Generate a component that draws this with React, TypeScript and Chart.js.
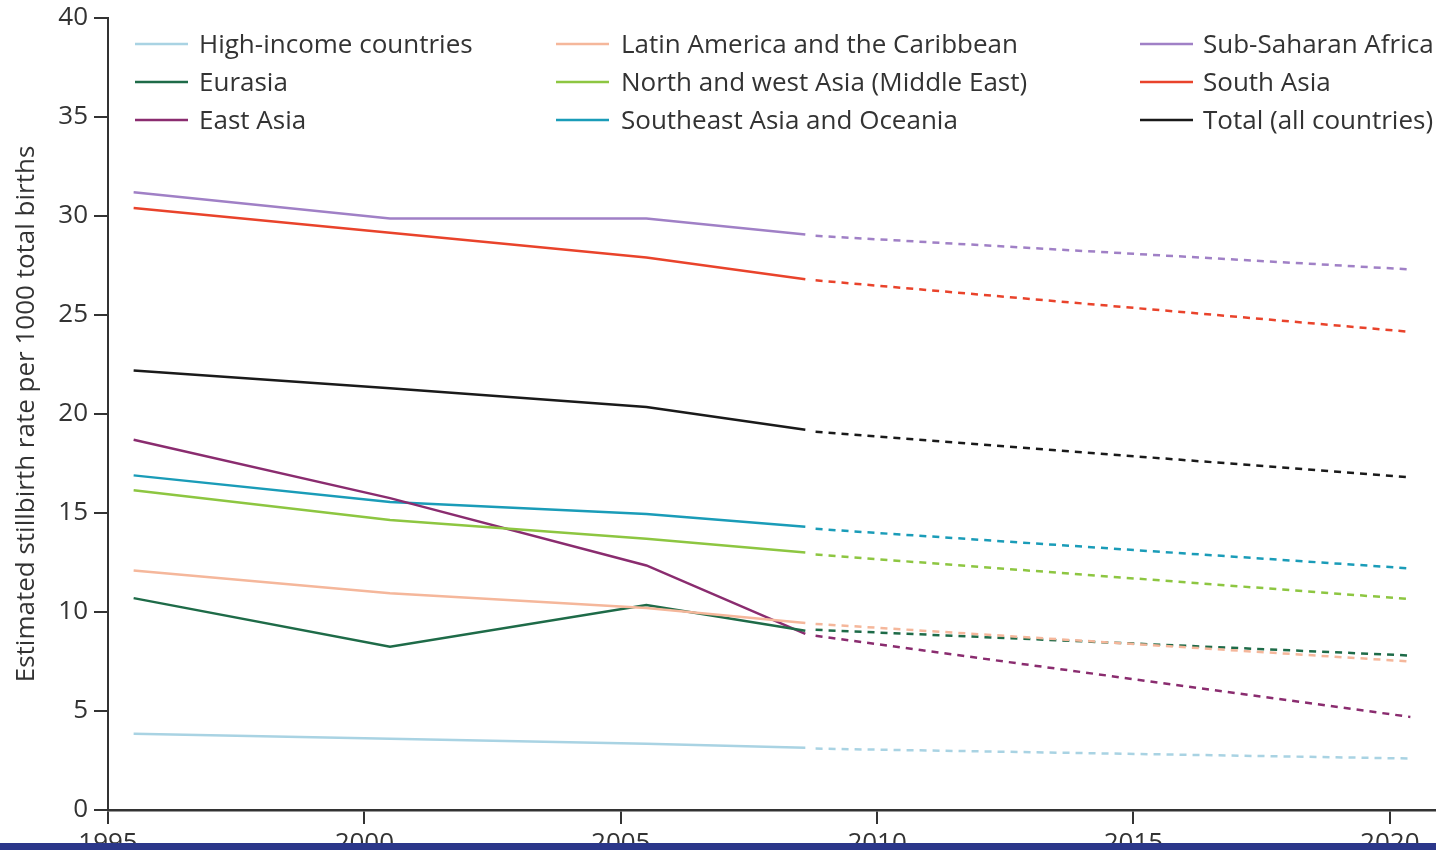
import React, { useEffect, useRef } from "react";
import { Chart, registerables } from "chart.js";

Chart.register(...registerables);

const solidYears = [1995.5, 2000.5, 2005.5, 2008.6];
const projYears = [2008.8, 2020.4];

const seriesNames = [
  "High-income countries",
  "Latin America and the Caribbean",
  "Sub-Saharan Africa",
  "Eurasia",
  "North and west Asia (Middle East)",
  "South Asia",
  "East Asia",
  "Southeast Asia and Oceania",
  "Total (all countries)",
];

const seriesColors = [
  "#a9d3e3",
  "#f5b79b",
  "#a080c6",
  "#1e6b48",
  "#8dc641",
  "#e9432b",
  "#8a2c6f",
  "#1a9cb8",
  "#1a1a1a",
];

const highIncome = [3.85, 3.6, 3.35, 3.15];
const highIncomeProj = [3.1, 2.6];
const latinAmerica = [12.1, 10.95, 10.2, 9.45];
const latinAmericaProj = [9.4, 7.5];
const subSaharan = [31.2, 29.87, 29.87, 29.06];
const subSaharanProj = [29.0, 27.3];
const eurasia = [10.7, 8.25, 10.35, 9.05];
const eurasiaProj = [9.1, 7.8];
const northWestAsia = [16.15, 14.65, 13.7, 13.0];
const northWestAsiaProj = [12.9, 10.65];
const southAsia = [30.4, 29.15, 27.9, 26.8];
const southAsiaProj = [26.75, 24.15];
const eastAsia = [18.7, 15.75, 12.35, 8.9];
const eastAsiaProj = [8.8, 4.7];
const seAsia = [16.9, 15.55, 14.95, 14.3];
const seAsiaProj = [14.2, 12.2];
const total = [22.2, 21.3, 20.35, 19.2];
const totalProj = [19.1, 16.8];

const solidSeries = [highIncome, latinAmerica, subSaharan, eurasia, northWestAsia, southAsia, eastAsia, seAsia, total];
const projSeries = [highIncomeProj, latinAmericaProj, subSaharanProj, eurasiaProj, northWestAsiaProj, southAsiaProj, eastAsiaProj, seAsiaProj, totalProj];

const yTicks = [0, 5, 10, 15, 20, 25, 30, 35, 40];
const xTicks = [1995, 2000, 2005, 2010, 2015, 2020];

const FONT = "'Open Sans', 'DejaVu Sans', sans-serif";
const TEXT_COLOR = "#333333";

const legendPlugin = {
  id: "gridLegend",
  afterDraw(chart: any) {
    const ctx = chart.ctx;
    const colLine = [135, 556, 1140];
    const colText = [199, 621, 1203];
    const rowY = [46, 84, 122];
    ctx.save();
    ctx.font = `26px ${FONT}`;
    ctx.textBaseline = "middle";
    ctx.textAlign = "left";
    seriesNames.forEach((name, i) => {
      const col = i % 3;
      const row = Math.floor(i / 3);
      const y = rowY[row];
      ctx.strokeStyle = seriesColors[i];
      ctx.lineWidth = 2.5;
      ctx.setLineDash([]);
      ctx.beginPath();
      ctx.moveTo(colLine[col], y - 2);
      ctx.lineTo(colLine[col] + 53, y - 2);
      ctx.stroke();
      ctx.fillStyle = TEXT_COLOR;
      ctx.fillText(name, colText[col], y);
    });
    ctx.restore();
  },
};

export default function App() {
  const canvasRef = useRef<HTMLCanvasElement | null>(null);

  useEffect(() => {
    document.body.style.margin = "0";
    const canvas = canvasRef.current;
    if (!canvas) return;
    const datasets: any[] = [];
    seriesNames.forEach((name, i) => {
      datasets.push({
        label: name,
        data: solidYears.map((x, j) => ({ x, y: solidSeries[i][j] })),
        borderColor: seriesColors[i],
        backgroundColor: seriesColors[i],
        borderWidth: 2.5,
        pointRadius: 0,
        tension: 0,
        fill: false,
      });
      datasets.push({
        label: name + " (projection)",
        data: projYears.map((x, j) => ({ x, y: projSeries[i][j] })),
        borderColor: seriesColors[i],
        backgroundColor: seriesColors[i],
        borderWidth: 2.5,
        borderDash: [7, 6],
        pointRadius: 0,
        tension: 0,
        fill: false,
      });
    });

    const chart = new Chart(canvas, {
      type: "line",
      data: { datasets },
      plugins: [legendPlugin],
      options: {
        responsive: false,
        animation: false,
        layout: { padding: { top: 18, left: 0, right: 0, bottom: 0 } },
        plugins: {
          legend: { display: false },
          tooltip: { enabled: false },
        },
        scales: {
          x: {
            type: "linear",
            min: 1995,
            max: 2020.9,
            afterBuildTicks: (scale: any) => {
              scale.ticks = xTicks.map((v) => ({ value: v }));
            },
            afterFit: (scale: any) => {
              scale.height = 40;
              scale.paddingLeft = 0;
              scale.paddingRight = 0;
            },
            ticks: {
              font: { family: FONT, size: 26 },
              color: TEXT_COLOR,
              padding: 4,
              maxRotation: 0,
              autoSkip: false,
              callback: (v: any) => String(v),
            },
            grid: {
              display: true,
              drawOnChartArea: false,
              drawTicks: true,
              tickLength: 14,
              color: "#333333",
              lineWidth: 2,
            },
            border: { display: true, color: "#333333", width: 2.5 },
          },
          y: {
            type: "linear",
            min: 0,
            max: 40,
            afterBuildTicks: (scale: any) => {
              scale.ticks = yTicks.map((v) => ({ value: v }));
            },
            afterFit: (scale: any) => {
              scale.width = 108;
              scale.paddingTop = 0;
              scale.paddingBottom = 0;
            },
            ticks: {
              font: { family: FONT, size: 26 },
              color: TEXT_COLOR,
              padding: 6,
              callback: (v: any) => String(v),
            },
            grid: {
              display: true,
              drawOnChartArea: false,
              drawTicks: true,
              tickLength: 14,
              color: "#333333",
              lineWidth: 2,
            },
            border: { display: true, color: "#333333", width: 2 },
            title: {
              display: true,
              text: "Estimated stillbirth rate per 1000 total births",
              font: { family: FONT, size: 26 },
              color: TEXT_COLOR,
              padding: { top: 11, bottom: 0 },
            },
          },
        },
      },
    });
    return () => chart.destroy();
  }, []);

  return (
    <div style={{ position: "fixed", left: 0, top: 0, width: 1436, height: 850, background: "#ffffff", overflow: "hidden" }}>
      <canvas ref={canvasRef} width={1436} height={850} style={{ display: "block" }} />
      <div style={{ position: "absolute", left: 0, bottom: 0, width: 1436, height: 7, background: "#2b378a" }} />
    </div>
  );
}
